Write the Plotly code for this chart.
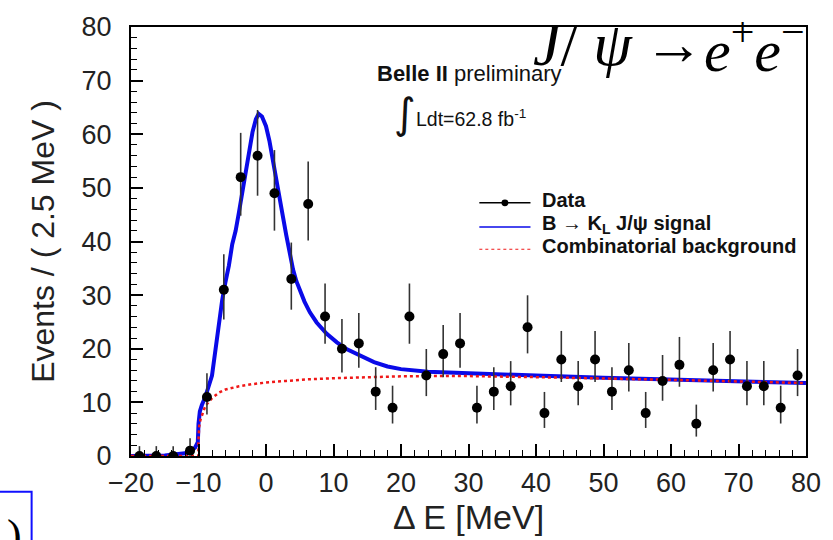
import math
import plotly.graph_objects as go

# ---------------- data ----------------
bin_centers = [-18.75, -16.25, -13.75, -11.25, -8.75, -6.25, -3.75, -1.25, 1.25, 3.75,
               6.25, 8.75, 11.25, 13.75, 16.25, 18.75, 21.25, 23.75, 26.25, 28.75,
               31.25, 33.75, 36.25, 38.75, 41.25, 43.75, 46.25, 48.75, 51.25, 53.75,
               56.25, 58.75, 61.25, 63.75, 66.25, 68.75, 71.25, 73.75, 76.25, 78.75]
counts = [0, 0, 0, 1, 11, 31, 52, 56, 49, 33,
          47, 26, 20, 21, 12, 9, 26, 15, 19, 21,
          9, 12, 13, 24, 8, 18, 13, 18, 12, 16,
          8, 14, 17, 6, 16, 18, 13, 13, 9, 15]

# fitted total (signal + background)
total_x = [-20, -15, -12, -11, -10.5, -10.1, -10.0, -9.8, -9.5, -9, -8, -7.5, -7, -6.5, -6,
           -5.5, -5, -4.5, -4, -3.5, -3, -2.5, -2, -1.5, -1.1, -0.6, 0, 0.5, 1, 1.5,
           2, 2.5, 3, 3.5, 4, 4.5, 5, 5.7, 6.5, 7.5, 9, 10.5, 12, 14, 16, 18, 20, 24,
           30, 40, 50, 60, 70, 80]
total_y = [0.0, 0.1, 0.5, 1.0, 1.6, 2.6, 6.0, 8.3, 9.5, 11.0, 15.0, 20.0, 24.5, 29.0, 32.5,
           35.5, 39.5, 42.0, 45.5, 49.5, 53.3, 57.2, 60.4, 62.8, 63.8, 63.3, 61.5, 58.8, 55.5, 52.0,
           48.5, 44.7, 41.2, 37.6, 34.8, 32.6, 30.8, 28.8, 26.8, 24.9, 22.8, 21.2, 19.9, 18.6, 17.5, 16.7, 16.2, 15.7,
           15.4, 15.0, 14.6, 14.3, 14.0, 13.6]

# combinatorial background
bkg_x = [-20, -10.02, -10.0, -9.9, -9.7, -9.5, -9, -8, -7, -6, -4, -2, 0, 3, 6, 10,
         15, 20, 25, 30, 40, 50, 60, 70, 80]
bkg_y = [0, 0, 3.0, 5.5, 6.8, 7.6, 9.3, 10.8, 11.8, 12.4, 13.0, 13.4, 13.7, 14.0, 14.3, 14.5,
         14.7, 14.85, 14.9, 14.9, 14.7, 14.5, 14.2, 13.9, 13.6]

x_ticks = [-20, -10, 0, 10, 20, 30, 40, 50, 60, 70, 80]
y_ticks = [0, 10, 20, 30, 40, 50, 60, 70, 80]

legend_labels = ["Data", "B \u2192 K<sub>L</sub> J/\u03c8 signal", "Combinatorial background"]


# Poisson (Garwood) 68% intervals, as RooFit draws data points
def pcdf(k, mu):
    s, term = 0.0, math.exp(-mu)
    for i in range(k + 1):
        if i > 0:
            term *= mu / i
        s += term
    return s


def solve(k, target):
    lo, hi = 0.0, k + 60.0
    for _ in range(80):
        mid = 0.5 * (lo + hi)
        if pcdf(k, mid) > target:
            lo = mid
        else:
            hi = mid
    return 0.5 * (lo + hi)


err_up, err_dn = [], []
for n in counts:
    up = solve(n, 0.158655)
    dn = 0.0 if n == 0 else solve(n - 1, 1 - 0.158655)
    err_up.append(up - n)
    err_dn.append(n - dn)

SANS = "Liberation Sans, Arial, sans-serif"
SERIF = "Liberation Serif, Times New Roman, serif"
BLUE = "#0a0ae8"
RED = "#f01818"

fig = go.Figure()

fig.add_trace(go.Scatter(
    x=total_x, y=total_y, mode="lines", name=legend_labels[1],
    line=dict(color=BLUE, width=4)))
fig.add_trace(go.Scatter(
    x=bkg_x, y=bkg_y, mode="lines", name=legend_labels[2],
    line=dict(color=RED, width=2.5, dash="dot")))
fig.add_trace(go.Scatter(
    x=bin_centers, y=counts, mode="markers", name=legend_labels[0],
    marker=dict(color="black", size=10),
    error_y=dict(type="data", array=err_up, arrayminus=err_dn, symmetric=False,
                 thickness=1.6, width=0, color="#333333")))

axis_common = dict(
    showline=True, mirror=True, linecolor="black", linewidth=2,
    ticks="inside", ticklen=12, tickwidth=1.5, tickcolor="black",
    showgrid=False, zeroline=False,
    tickfont=dict(family=SANS, size=27, color="#222222"),
)

fig.update_xaxes(
    range=[-20, 80], tickvals=x_ticks, ticklabelstandoff=2,
    minor=dict(dtick=2, tick0=-20, ticks="inside", ticklen=6, tickwidth=1.2, tickcolor="black"),
    title=dict(text="\u0394 E [MeV]", font=dict(family=SANS, size=34, color="#222222"), standoff=6),
    **axis_common)
fig.update_yaxes(
    range=[0, 80], tickvals=y_ticks, ticklabelstandoff=12,
    minor=dict(dtick=2, tick0=0, ticks="inside", ticklen=6, tickwidth=1.2, tickcolor="black"),
    title=dict(text="Events / ( 2.5 MeV )", font=dict(family=SANS, size=32, color="#222222"), standoff=17),
    **axis_common)

L, R, T, B = 131, 16, 16, 80
W, H = 833, 540
pw, ph = W - L - R, H - T - B


def px(xp):
    return (xp - L) / pw


def py(yp):
    return (H - B - yp) / ph


fig.update_layout(
    width=W, height=H,
    margin=dict(l=L, r=R, t=T, b=B),
    paper_bgcolor="white", plot_bgcolor="white",
    font=dict(family=SANS, color="#111111"),
    showlegend=False,
)

annotations = [
    dict(x=px(379), y=py(64), xref="paper", yref="paper", xanchor="left", yanchor="middle",
         text="<b>Belle II</b> preliminary", showarrow=False,
         font=dict(family=SANS, size=22, color="#111111")),
    dict(x=px(396), y=py(106), xref="paper", yref="paper", xanchor="left", yanchor="middle",
         text="\u222b", showarrow=False,
         font=dict(family="DejaVu Sans", size=42, color="#111111")),
    dict(x=px(419), y=py(110), xref="paper", yref="paper", xanchor="left", yanchor="middle",
         text="Ldt=62.8 fb<sup>-1</sup>", showarrow=False,
         font=dict(family=SANS, size=19.5, color="#111111")),
    # J/psi -> e+ e-
    dict(x=px(538), y=py(34), xref="paper", yref="paper", xanchor="left", yanchor="middle",
         text="<i>J</i>/ <i>\u03c8</i>", showarrow=False,
         font=dict(family=SERIF, size=62, color="black")),
    dict(x=px(683), y=py(34), xref="paper", yref="paper", xanchor="center", yanchor="middle",
         text="\u2192", showarrow=False,
         font=dict(family=SERIF, size=60, color="black")),
    dict(x=px(711), y=py(36), xref="paper", yref="paper", xanchor="left", yanchor="middle",
         text="<i>e</i><sup>+</sup><i>e</i><sup>\u2212</sup>", showarrow=False,
         font=dict(family=SERIF, size=60, color="black")),
    dict(x=px(13), y=py(515), xref="paper", yref="paper", xanchor="center", yanchor="top",
         text=")", showarrow=False, font=dict(family="Liberation Serif", size=44, color="black")),
]

# manual legend (ROOT/RooFit style)
leg_y = [198, 223, 246]
for i, lab in enumerate(legend_labels):
    annotations.append(dict(
        x=px(547), y=py(leg_y[i] - 3), xref="paper", yref="paper", xanchor="left", yanchor="middle",
        text="<b>" + lab + "</b>", showarrow=False,
        font=dict(family=SANS, size=20, color="#111111")))
fig.update_layout(annotations=annotations)

shapes = [
    dict(type="line", xref="paper", yref="paper", x0=px(485), x1=px(537),
         y0=py(leg_y[0]), y1=py(leg_y[0]), line=dict(color="black", width=1.5)),
    dict(type="circle", xref="paper", yref="paper", x0=px(507.5), x1=px(514.5),
         y0=py(leg_y[0] - 3.5), y1=py(leg_y[0] + 3.5), fillcolor="black", line=dict(color="black", width=0)),
    dict(type="line", xref="paper", yref="paper", x0=px(485), x1=px(537),
         y0=py(leg_y[1]), y1=py(leg_y[1]), line=dict(color=BLUE, width=1.5)),
    dict(type="line", xref="paper", yref="paper", x0=px(485), x1=px(537),
         y0=py(leg_y[2]), y1=py(leg_y[2]), line=dict(color=RED, width=1.2, dash="dot")),
    dict(type="rect", xref="paper", yref="paper", x0=px(-40), x1=px(30), y0=py(497), y1=py(600),
         line=dict(color="#1010ff", width=2), fillcolor="rgba(0,0,0,0)"),
]
fig.update_layout(shapes=shapes)

fig.write_html("out.html")
